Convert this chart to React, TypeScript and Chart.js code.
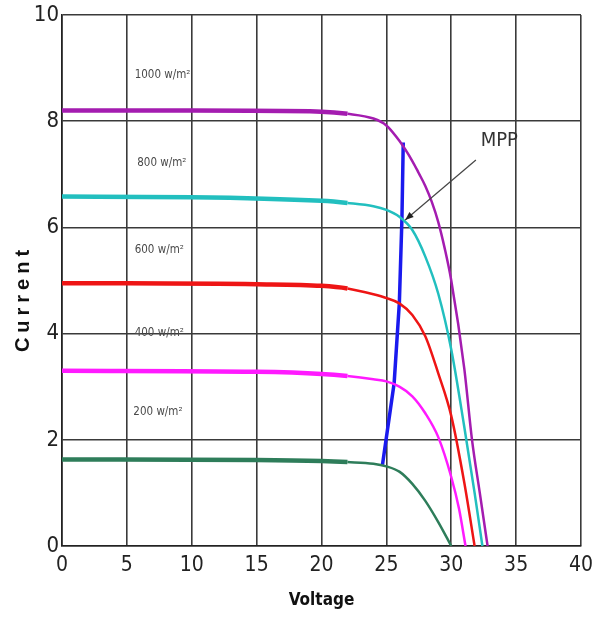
import React, { useEffect, useRef } from 'react';
import { Chart, registerables } from 'chart.js';
Chart.register(...registerables);

// I-V curves for several irradiance levels
const v1000 = [0, 10, 20, 22, 24, 25, 26, 27, 27.5, 28, 28.5, 29, 29.5, 30, 31, 31.6, 32.2, 32.8];
const i1000 = [8.2, 8.2, 8.18, 8.14, 8.05, 7.92, 7.63, 7.25, 7.02, 6.78, 6.48, 6.1, 5.6, 5.0, 3.35, 2.0, 1.0, 0];
const v800 = [0, 10, 20, 22, 24, 25, 26, 27, 28, 29, 30, 31, 31.8, 32.4];
const i800 = [6.58, 6.57, 6.5, 6.46, 6.4, 6.33, 6.2, 5.95, 5.45, 4.75, 3.7, 2.25, 1.0, 0];
const v600 = [0, 15, 20, 22, 24, 25, 26, 27, 28, 29, 30, 31, 31.8];
const i600 = [4.95, 4.93, 4.9, 4.85, 4.74, 4.67, 4.57, 4.35, 3.95, 3.25, 2.45, 1.2, 0];
const v400 = [0, 15, 20, 22, 24, 25, 26, 27, 28, 29, 30, 30.6, 31.1];
const i400 = [3.3, 3.28, 3.24, 3.2, 3.14, 3.1, 3.0, 2.82, 2.5, 2.05, 1.3, 0.7, 0];
const v200 = [0, 15, 20, 22, 24, 25, 26, 27, 28, 29, 30];
const i200 = [1.63, 1.62, 1.6, 1.58, 1.55, 1.5, 1.4, 1.17, 0.85, 0.45, 0];
// Maximum power point locus
const vMpp = [24.7, 25.6, 26.0, 26.2, 26.3];
const iMpp = [1.53, 3.07, 4.58, 6.17, 7.6];

const seriesColors = ['#a41cb0', '#22bfbf', '#ee1515', '#ff1aff', '#2e7d5a'];
const mppColor = '#1a1aee';

const irrLabels = ['1000 w/m²', '800 w/m²', '600 w/m²', '400 w/m²', '200 w/m²'];
const irrLabelV = [5.6, 5.8, 5.6, 5.6, 5.5];
const irrLabelI = [8.87, 7.21, 5.57, 4.01, 2.52];

const mppText = 'MPP';
const mppTextPos = [33.7, 7.63];
const arrowFrom = [31.9, 7.27];
const arrowTo = [26.45, 6.14];

const xTicks = [0, 5, 10, 15, 20, 25, 30, 35, 40];
const yTicks = [0, 2, 4, 6, 8, 10];

const NARROW = "'Liberation Sans Narrow', 'DejaVu Sans Condensed', Arial, sans-serif";

function pts(v: number[], i: number[]) {
  return v.map((x, k) => ({ x, y: i[k] }));
}

const overlayPlugin = {
  id: 'overlay',
  afterDraw(chart: any) {
    const { ctx, scales } = chart;
    const xs = scales.x, ys = scales.y;
    ctx.save();
    // irradiance labels
    ctx.fillStyle = '#4a4a4a';
    ctx.font = `11.5px ${NARROW}`;
    ctx.textBaseline = 'middle';
    ctx.textAlign = 'left';
    irrLabels.forEach((t, k) => {
      ctx.fillText(t, xs.getPixelForValue(irrLabelV[k]), ys.getPixelForValue(irrLabelI[k]));
    });
    // MPP text
    ctx.fillStyle = '#333';
    ctx.font = `20px ${NARROW}`;
    ctx.textAlign = 'center';
    ctx.fillText(mppText, xs.getPixelForValue(mppTextPos[0]), ys.getPixelForValue(mppTextPos[1]));
    // arrow
    const x0 = xs.getPixelForValue(arrowFrom[0]), y0 = ys.getPixelForValue(arrowFrom[1]);
    const x1 = xs.getPixelForValue(arrowTo[0]), y1 = ys.getPixelForValue(arrowTo[1]);
    ctx.strokeStyle = '#444';
    ctx.lineWidth = 1.2;
    ctx.beginPath();
    ctx.moveTo(x0, y0);
    ctx.lineTo(x1, y1);
    ctx.stroke();
    const ang = Math.atan2(y1 - y0, x1 - x0);
    const L = 9, W = 0.38;
    ctx.fillStyle = '#222';
    ctx.beginPath();
    ctx.moveTo(x1, y1);
    ctx.lineTo(x1 - L * Math.cos(ang - W), y1 - L * Math.sin(ang - W));
    ctx.lineTo(x1 - L * Math.cos(ang + W), y1 - L * Math.sin(ang + W));
    ctx.closePath();
    ctx.fill();
    // y axis title with letter spacing
    ctx.translate(23, (chart.chartArea.top + chart.chartArea.bottom) / 2 + 18);
    ctx.rotate(-Math.PI / 2);
    ctx.fillStyle = '#111';
    ctx.font = "bold 20px 'Liberation Sans', Arial, sans-serif";
    (ctx as any).letterSpacing = '5px';
    ctx.textAlign = 'center';
    ctx.fillText('Current', 0, 0);
    ctx.restore();
  },
};

export default function App() {
  const ref = useRef<HTMLCanvasElement>(null);
  useEffect(() => {
    document.body.style.margin = '0';
    const canvas = ref.current!;
    const curves = [
      [v1000, i1000],
      [v800, i800],
      [v600, i600],
      [v400, i400],
      [v200, i200],
    ];
    const datasets: any[] = curves.map((c, k) => ({
      label: irrLabels[k],
      data: pts(c[0], c[1]),
      borderColor: seriesColors[k],
      borderWidth: 3,
      pointRadius: 0,
      cubicInterpolationMode: 'monotone',
      segment: {
        borderWidth: (s: any) => (s.p0.parsed.x < 22 ? 4.5 : 2.5),
      },
    }));
    datasets.push({
      label: 'MPP',
      data: pts(vMpp, iMpp),
      borderColor: mppColor,
      borderWidth: 3.5,
      pointRadius: 0,
      tension: 0,
    });
    const chart = new Chart(canvas, {
      type: 'line',
      data: { datasets },
      options: {
        animation: false,
        responsive: false,
        layout: { padding: { top: 15, right: 12, left: 0, bottom: 0 } },
        plugins: { legend: { display: false }, tooltip: { enabled: false } },
        scales: {
          x: {
            type: 'linear',
            min: 0,
            max: 40,
            afterBuildTicks: (s: any) => { s.ticks = xTicks.map((value) => ({ value })); },
            afterFit: (s: any) => { s.height = 73; s.paddingRight = 0; s.paddingLeft = 0; },
            grid: { color: '#3a3a3a', lineWidth: 1.6, drawTicks: false },
            border: { color: '#222', width: 1.6 },
            ticks: { color: '#222', padding: 7, font: { family: NARROW, size: 21 } },
            title: {
              display: true,
              text: 'Voltage',
              color: '#111',
              padding: { top: 0, bottom: 8 },
              font: { family: NARROW, size: 17, weight: 'bold' },
            },
          },
          y: {
            type: 'linear',
            min: 0,
            max: 10,
            afterBuildTicks: (s: any) => { s.ticks = yTicks.map((value) => ({ value })); },
            afterFit: (s: any) => { s.width = 62; s.paddingTop = 0; s.paddingBottom = 0; },
            grid: { color: '#3a3a3a', lineWidth: 1.6, drawTicks: false },
            border: { color: '#222', width: 1.6 },
            ticks: { color: '#222', padding: 3, font: { family: NARROW, size: 22 } },
          },
        },
      },
      plugins: [overlayPlugin],
    } as any);
    return () => chart.destroy();
  }, []);
  return (
    <div style={{ width: 593, height: 619, background: '#fff' }}>
      <canvas ref={ref} width={593} height={619} />
    </div>
  );
}
